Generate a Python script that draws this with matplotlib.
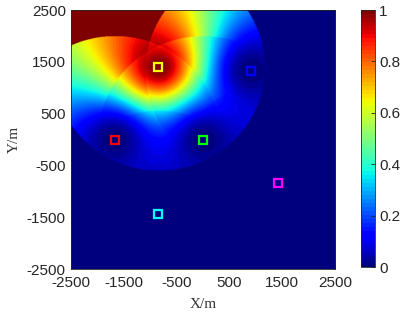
import numpy as np
import matplotlib
matplotlib.use("Agg")
import matplotlib.pyplot as plt

# sensor positions (m) and marker colours
sensor_x = [-840, 905, -1670, 0, 1420, -840]
sensor_y = [1400, 1330, 0, 0, -840, -1440]
sensor_colors = ["#ffff00", "#0000ff", "#ff0000", "#00ff00", "#ff00ff", "#00ffff"]
sensing_radius = 2000.0
target_idx = 0  # share of the yellow sensor is mapped

x_ticks = [-2500, -1500, -500, 500, 1500, 2500]
y_ticks = [-2500, -1500, -500, 500, 1500, 2500]
cbar_ticks = [0, 0.2, 0.4, 0.6, 0.8, 1]

# field on a grid: normalised inverse-square weight of the target sensor
gx = np.linspace(-2500, 2500, 601)
gy = np.linspace(-2500, 2500, 601)
X, Y = np.meshgrid(gx, gy)
num = np.zeros_like(X)
den = np.zeros_like(X)
for i, (sx, sy) in enumerate(zip(sensor_x, sensor_y)):
    d = np.hypot(X - sx, Y - sy)
    inside = d <= sensing_radius
    w = np.where(inside, 1.0 / np.maximum(d, 1.0) ** 2, 0.0)
    den += w
    if i == target_idx:
        num += w
field = np.where(den > 0, num / np.where(den > 0, den, 1), 0.0)

fig = plt.figure(figsize=(4.07, 3.15), dpi=100)
ax = fig.add_axes([0.1735, 0.146, 0.650, 0.822])
cmap = plt.get_cmap("jet", 64)
im = ax.imshow(field, extent=[-2500, 2500, -2500, 2500], origin="lower",
               cmap=cmap, vmin=0, vmax=1, aspect="auto", interpolation="bilinear")
for sx, sy, c in zip(sensor_x, sensor_y, sensor_colors):
    ax.plot(sx, sy, "s", mfc="none", mec=c, ms=6, mew=1.6)

ax.set_xlim(-2500, 2500)
ax.set_ylim(-2500, 2500)
ax.set_xticks(x_ticks)
ax.set_yticks(y_ticks)
tick_font = {"family": ["Liberation Sans", "DejaVu Sans"], "size": 11}
ax.set_xticklabels([str(t) for t in x_ticks], fontdict=tick_font)
ax.set_yticklabels([str(t) for t in y_ticks], fontdict=tick_font)
ax.tick_params(axis="x", direction="in", length=0, pad=5, colors="#262626")
ax.tick_params(axis="y", direction="in", length=0, pad=3.5, colors="#262626")
for s in ax.spines.values():
    s.set_color("#262626")
    s.set_linewidth(0.6)
lab_font = {"family": ["Liberation Serif", "DejaVu Serif"], "size": 11, "color": "#333333"}
ax.set_xlabel("X/m", fontdict=lab_font, labelpad=5.5)
ax.set_ylabel("Y/m", fontdict=lab_font, labelpad=4)

cax = fig.add_axes([0.887, 0.152, 0.034, 0.816])
cb = fig.colorbar(im, cax=cax, ticks=cbar_ticks)
cb.ax.set_yticklabels(["0", "0.2", "0.4", "0.6", "0.8", "1"],
                      fontdict=tick_font)
cb.ax.tick_params(direction="in", length=3, width=0.6, colors="#262626", pad=3)
cb.outline.set_linewidth(0.6)
cb.outline.set_edgecolor("#262626")

fig.savefig("out.png", dpi=100)
